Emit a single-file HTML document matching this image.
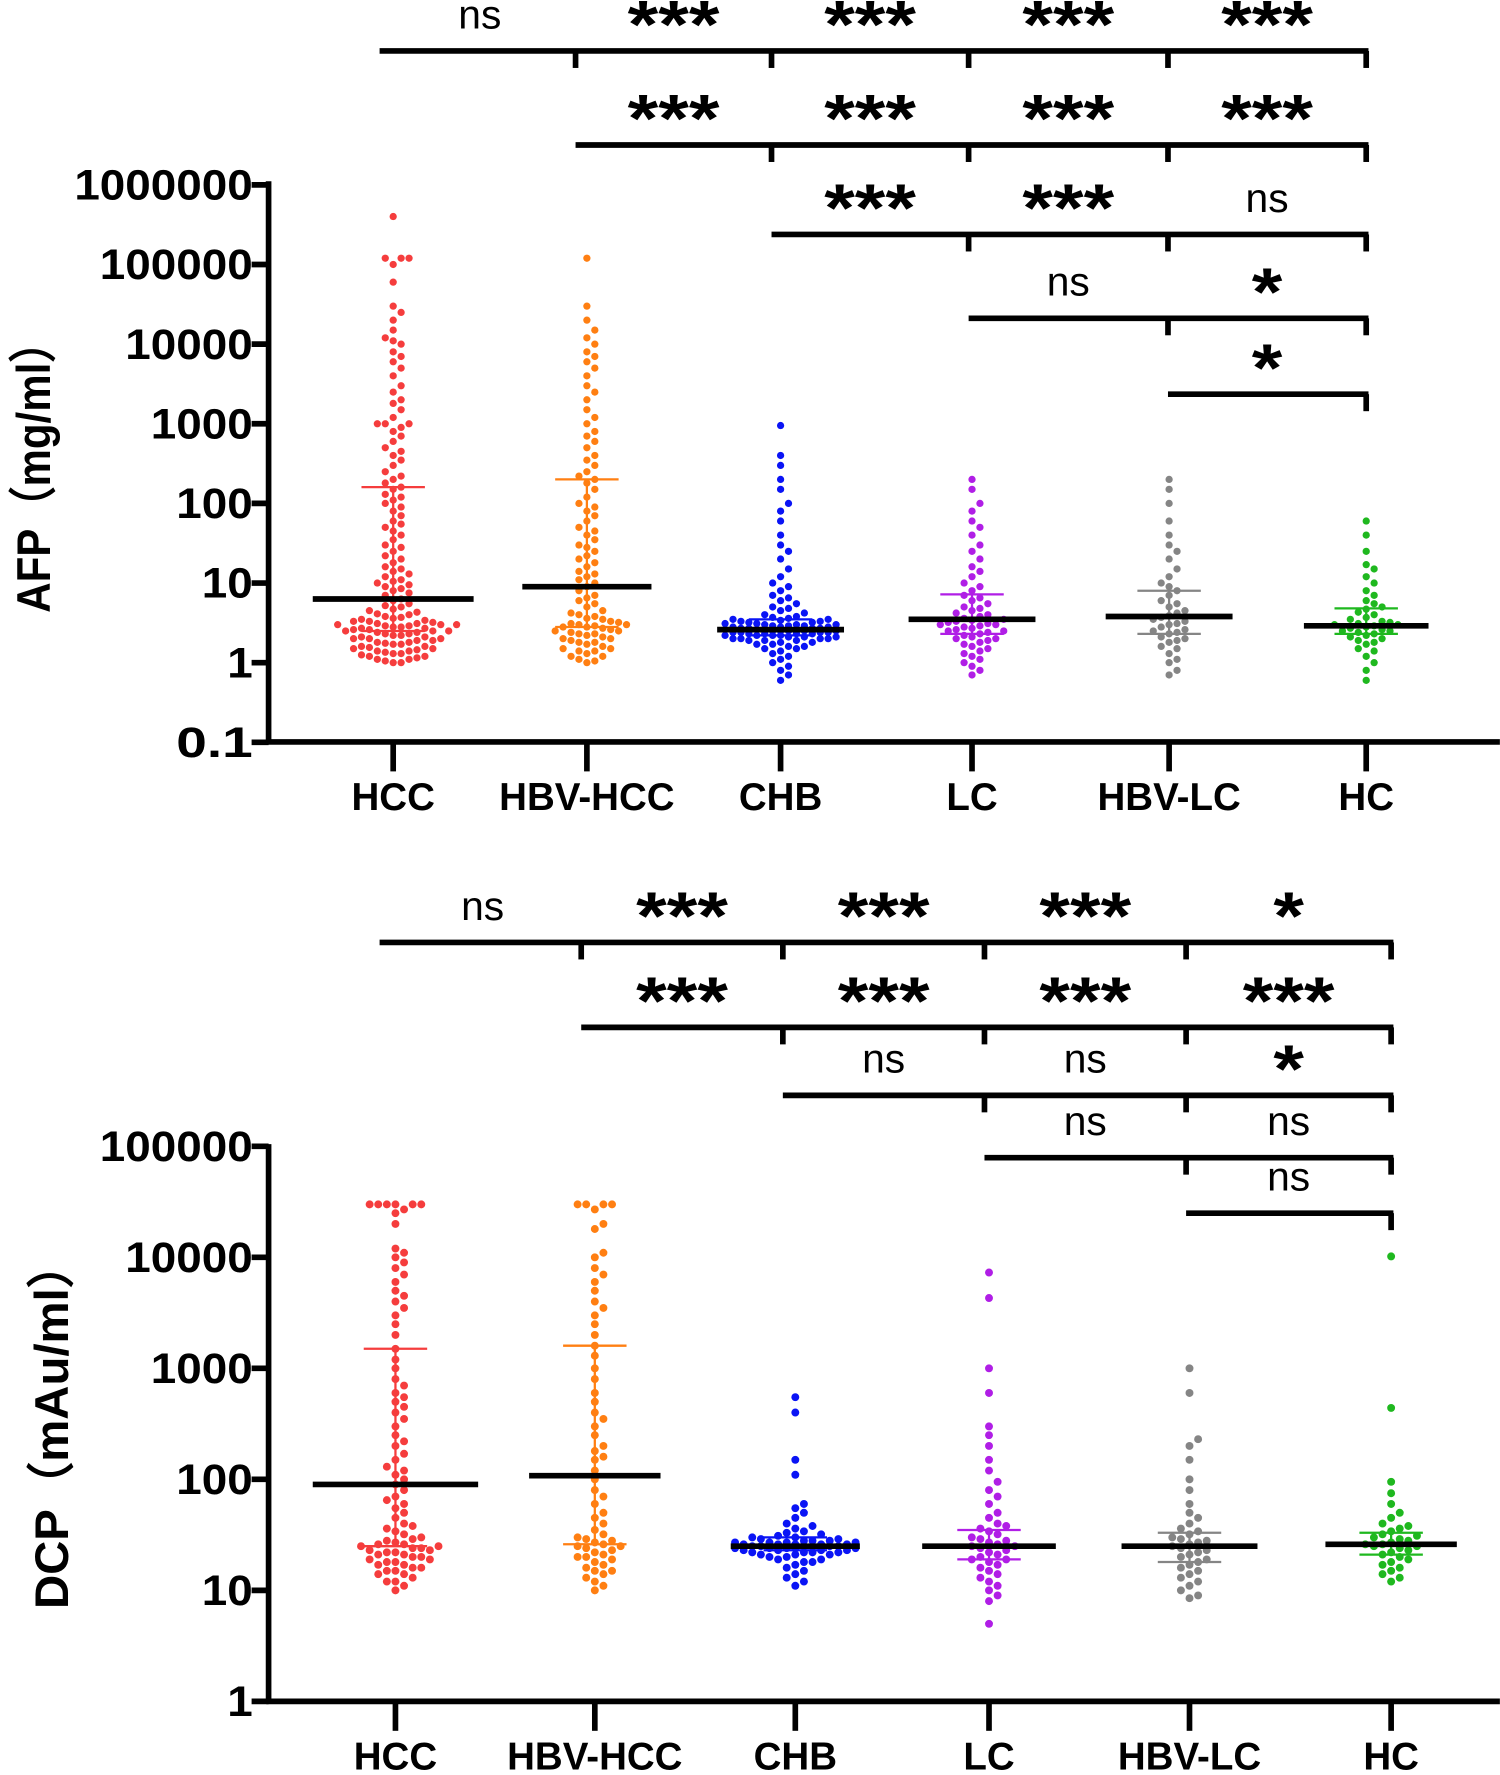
<!DOCTYPE html>
<html><head><meta charset="utf-8"><style>html,body{margin:0;padding:0;background:#fff}svg{display:block}</style></head>
<body>
<svg id="chart" xmlns="http://www.w3.org/2000/svg" width="1500" height="1775" viewBox="0 0 1324 1567" font-family="Liberation Sans, Arial, sans-serif">
<rect width="1324" height="1567" fill="#fff"/>
<g id="top"></g>
<g id="bot"></g>
</svg>
<script>
const categories = ["HCC","HBV-HCC","CHB","LC","HBV-LC","HC"];
const colors = ["#f53d3d","#ff7f12","#0a14f5","#b01ee6","#858585","#1fb81f"];
// AFP values (ng/ml)
const afpHCC = [1,1,1.05,1.1,1.1,1.15,1.2,1.2,1.25,1.3,1.3,1.35,1.4,1.4,1.45,1.5,1.5,1.55,1.6,1.6,1.7,1.7,1.75,1.8,1.8,1.9,1.9,2,2,2,2.1,2.1,2.2,2.2,2.3,2.3,2.4,2.4,2.5,2.5,2.5,2.6,2.6,2.7,2.7,2.8,2.8,2.9,2.9,3,3,3,3.1,3.1,3.2,3.3,3.3,3.4,3.5,3.6,3.7,3.8,4,4.1,4.3,4.5,4.7,5,5.2,5.5,6,6.3,7,7.5,8,8.5,9,9.5,10,10.5,11,12,13,14,15,16,18,20,22,25,28,30,35,40,45,50,55,60,70,80,90,100,110,120,130,150,160,180,200,220,250,300,350,400,450,500,600,700,800,900,1000,1000,1000,1200,1500,1800,2000,2500,3000,4000,5000,6000,7000,8000,10000,11000,12000,15000,20000,25000,30000,60000,100000,120000,120000,120000,400000];
const afpHBVHCC = [1,1.05,1.1,1.2,1.2,1.3,1.4,1.4,1.5,1.5,1.6,1.7,1.8,1.8,1.9,2,2,2.1,2.2,2.3,2.3,2.4,2.5,2.5,2.6,2.7,2.8,2.8,2.9,3,3,3.1,3.2,3.3,3.5,3.6,3.8,4,4.2,4.5,5,5.5,6,6.5,7,8,9,10,11,12,13,14,16,18,20,22,25,28,30,35,40,45,50,60,70,80,90,100,120,150,180,200,220,250,300,350,400,500,600,700,800,1000,1200,1500,2000,2500,3000,4000,5000,6000,7000,8000,10000,12000,15000,20000,30000,120000];
const afpCHB = [0.6,0.7,0.8,0.9,1,1.1,1.2,1.3,1.4,1.5,1.5,1.6,1.6,1.7,1.7,1.8,1.8,1.9,1.9,1.9,2,2,2,2,2.1,2.1,2.1,2.2,2.2,2.2,2.2,2.3,2.3,2.3,2.3,2.4,2.4,2.4,2.4,2.5,2.5,2.5,2.5,2.5,2.6,2.6,2.6,2.6,2.7,2.7,2.7,2.7,2.8,2.8,2.8,2.9,2.9,2.9,3,3,3,3.1,3.1,3.2,3.2,3.3,3.3,3.4,3.5,3.5,3.6,3.7,3.8,4,4.2,4.5,4.8,5,5.5,6,6.5,7,8,9,10,12,15,20,25,30,40,60,80,100,150,200,300,400,950];
const afpLC = [0.7,0.8,0.9,1,1.1,1.2,1.3,1.4,1.5,1.6,1.7,1.8,1.9,2,2,2.1,2.2,2.3,2.4,2.5,2.5,2.6,2.7,2.8,2.9,3,3,3.1,3.2,3.3,3.4,3.5,3.6,3.8,4,4.2,4.5,4.8,5,5.5,6,6.5,7,8,9,10,12,14,16,20,25,30,40,50,60,80,100,150,200];
const afpHBVLC = [0.7,0.8,1,1.1,1.3,1.5,1.6,1.8,1.9,2,2.1,2.3,2.4,2.5,2.6,2.8,3,3.1,3.3,3.5,3.7,3.9,4.2,4.5,5,5.5,6,7,8,9,10,12,15,20,25,30,40,60,100,150,200];
const afpHC = [0.6,0.8,1,1.2,1.4,1.5,1.7,1.8,1.9,2,2.1,2.2,2.3,2.4,2.5,2.5,2.6,2.7,2.8,2.9,3,3,3.1,3.2,3.3,3.5,3.7,4,4.3,4.7,5,5.5,6,7,8,10,12,15,17,25,40,60];
const afpMedian = [6.3,9,2.6,3.5,3.8,2.9];
const afpLow = [2.5,2.8,2.2,2.3,2.3,2.3];
const afpHigh = [160,200,3.5,7.2,8,4.8];
// DCP values (mAU/ml)
const dcpHCC = [10,11,12,12,13,14,14,15,15,16,16,17,17,18,18,19,19,20,20,21,21,22,22,23,23,24,24,25,25,26,26,27,28,29,30,32,34,36,38,40,45,50,55,60,65,70,80,90,100,110,120,130,150,170,200,220,250,300,350,400,450,500,550,600,700,800,1000,1200,1500,2000,2500,3000,3500,4000,4500,5000,6000,7000,8000,9000,10000,11000,12000,20000,25000,27000,30000,30000,30000,30000,30000,30000];
const dcpHBVHCC = [10,11,12,13,14,15,15,16,17,18,19,20,20,21,22,23,24,25,25,26,27,28,29,30,32,35,40,45,50,60,70,80,100,120,150,160,180,200,250,300,350,400,500,600,800,1000,1300,1600,2000,2500,3000,3500,4000,5000,6000,7000,8000,10000,11000,18000,20000,27000,30000,30000,30000,30000];
const dcpCHB = [11,12,13,14,15,16,17,18,18,19,19,20,20,21,21,21,22,22,22,22,23,23,23,23,24,24,24,24,24,25,25,25,25,25,25,26,26,26,26,26,27,27,27,27,28,28,28,29,29,30,30,31,32,33,34,36,38,40,45,50,55,60,110,150,400,550];
const dcpLC = [5,8,9,10,11,12,13,14,15,16,17,18,19,19,20,21,22,23,24,25,25,26,27,28,29,30,32,34,36,38,40,45,50,60,70,80,95,120,150,200,250,300,600,1000,4300,7300];
const dcpHBVLC = [8.5,9,10,11,12,13,14,15,16,17,18,19,20,21,22,23,24,25,26,27,28,29,30,32,34,36,40,45,50,60,80,100,150,200,230,600,1000];
const dcpHC = [12,13,14,15,16,17,18,19,20,21,22,23,24,25,25,26,26,27,28,29,30,31,32,34,36,38,40,45,50,60,75,95,440,10200];
const dcpMedian = [90,108,25,25,25,26];
const dcpLow = [25,26,23,19,18,21];
const dcpHigh = [1500,1600,30,35,33,33];
// significance brackets
const afpRowLabels = [["ns","***","***","***","***"],["***","***","***","***"],["***","***","ns"],["ns","*"],["*"]];
const dcpRowLabels = [["ns","***","***","***","*"],["***","***","***","***"],["ns","ns","*"],["ns","ns"],["ns"]];
const afpTicks = ["0.1","1","10","100","1000","10000","100000","1000000"];
const dcpTicks = ["1","10","100","1000","10000","100000"];

const NS="http://www.w3.org/2000/svg";
function mk(parent,tag,attrs){const e=document.createElementNS(NS,tag);for(const k in attrs)e.setAttribute(k,attrs[k]);parent.appendChild(e);return e;}

function panel(g,cfg){
  const y = v => cfg.y0 - Math.log10(v)*cfg.dec;
  const x = i => cfg.xs[i];
  const ya=mk(g,'line',{x1:237,x2:237,y1:cfg.yTopAxis-2,y2:cfg.y0Axis+2,stroke:'#000','stroke-width':5});
  
  const xa=mk(g,'line',{x1:235,x2:1324,y1:cfg.y0Axis,y2:cfg.y0Axis,stroke:'#000','stroke-width':5});
  
  cfg.ticks.forEach(t=>{
    const ty=y(parseFloat(t));
    mk(g,'line',{x1:222,x2:237,y1:ty,y2:ty,stroke:'#000','stroke-width':5});
    const tx=mk(g,'text',{x:223,y:ty+13,'text-anchor':'end','font-size':38,'font-weight':'bold',textLength:t.length*22.5,lengthAdjust:'spacingAndGlyphs'});
    
    tx.textContent=t;
  });
  categories.forEach((c,i)=>{
    mk(g,'line',{x1:x(i),x2:x(i),y1:cfg.y0Axis,y2:cfg.y0Axis+26,stroke:'#000','stroke-width':5});
    const t=mk(g,'text',{x:x(i),y:cfg.labY,'text-anchor':'middle','font-size':34,'font-weight':'bold'});
    
    t.textContent=c;
  });
  const tt=mk(g,'text',{x:0,y:0,transform:`translate(${cfg.titleX},${cfg.titleY}) rotate(-90)`,'text-anchor':'middle','font-size':cfg.titleSize,'font-weight':'bold',textLength:cfg.titleLen,lengthAdjust:'spacingAndGlyphs'});
  
  tt.textContent=cfg.title;
  const r=cfg.r, d=2*r+0.6;
  cfg.series.forEach((vals,i)=>{
    const sg=mk(g,'g',{fill:colors[i]});
    
    
    const placed=[];
    const maxW=cfg.maxW[i];
    const pts=vals.map(v=>y(v)).sort((a,b)=>b-a);
    pts.forEach(py=>{
      let best=0,bestScore=1e9;
      for(let k=0;k<80;k++){
        const off=(k===0)?0:((k%2?1:-1)*Math.ceil(k/2)*d);
        if(Math.abs(off)>maxW)break;
        const px=x(i)+off;
        let mind=1e9;
        placed.forEach(p=>{const dd=(p[0]-px)**2+(p[1]-py)**2;if(dd<mind)mind=dd;});
        if(mind>=d*d*0.98){best=off;bestScore=-1;break;}
        if(-mind<bestScore){bestScore=-mind;best=off;}
      }
      placed.push([x(i)+best,py]);
      const c=mk(sg,'circle',{cx:x(i)+best,cy:py,r:r});
      
      
    });
    const lo=y(cfg.low[i]),hi=y(cfg.high[i]);
    const eb=mk(g,'g',{stroke:colors[i],'stroke-width':2});
    
    
    mk(eb,'line',{x1:x(i),x2:x(i),y1:lo,y2:hi});
    mk(eb,'line',{x1:x(i)-28,x2:x(i)+28,y1:lo,y2:lo});
    mk(eb,'line',{x1:x(i)-28,x2:x(i)+28,y1:hi,y2:hi});
    const m=y(cfg.median[i]);
    const ml=mk(g,'line',{x1:x(i)-cfg.mw[i],x2:x(i)+cfg.mw[i],y1:m,y2:m,stroke:'#000','stroke-width':5});
    
    
  });
  cfg.rows.forEach((labels,ri)=>{
    const ly=cfg.rowY[ri], start=5-labels.length;
    const bg=mk(g,'g',{stroke:'#000','stroke-width':5});
    
    
    const x1 = start===0?335:cfg.bx[start];
    mk(bg,'line',{x1:x1,x2:cfg.bx[5]+2,y1:ly,y2:ly});
    for(let j=start+1;j<=5;j++){mk(bg,'line',{x1:cfg.bx[j],x2:cfg.bx[j],y1:ly,y2:ly+15});}
    labels.forEach((lab,j)=>{
      const col=start+j;
      const cx=(col===0)?(cfg.bx[0]+cfg.bx[1])/2+2:(cfg.bx[col]+cfg.bx[col+1])/2;
      let t;
      if(lab==='ns'){t=mk(g,'text',{x:cx,y:ly-20,'text-anchor':'middle','font-size':36});}
      else{t=mk(g,'text',{x:cx,y:ly-3,'text-anchor':'middle','font-size':60,'font-weight':'bold',textLength:lab.length*27,lengthAdjust:'spacingAndGlyphs'});}
      
      
      t.textContent=lab;
    });
  });
}

panel(document.getElementById('top'),{
  y0:585, dec:70.3, y0Axis:655, yTopAxis:162, labY:715,
  xs:[347,518,689,858,1032,1206], bx:[335,508,681,855,1031,1206],
  ticks:afpTicks, series:[afpHCC,afpHBVHCC,afpCHB,afpLC,afpHBVLC,afpHC],
  median:afpMedian, low:afpLow, high:afpHigh, mw:[71,57,56,56,56,55],
  maxW:[62,58,52,52,50,50],
  rows:afpRowLabels, rowY:[45,128,207,281,348], r:3.2,
  title:"AFP（mg/ml）", titleX:44, titleY:412, titleSize:42, titleLen:258
});
panel(document.getElementById('bot'),{
  y0:1502, dec:98, y0Axis:1502, yTopAxis:1012, labY:1562,
  xs:[349,525,702,873,1050,1228], bx:[335,513,691,869,1047,1228],
  ticks:dcpTicks, series:[dcpHCC,dcpHBVHCC,dcpCHB,dcpLC,dcpHBVLC,dcpHC],
  median:dcpMedian, low:dcpLow, high:dcpHigh, mw:[73,58,57,59,60,58],
  maxW:[62,58,54,54,54,54],
  rows:dcpRowLabels, rowY:[832,907,967,1022,1071], r:3.5,
  title:"DCP（mAu/ml）", titleX:60, titleY:1258, titleSize:42, titleLen:325
});
</script>
</body></html>
